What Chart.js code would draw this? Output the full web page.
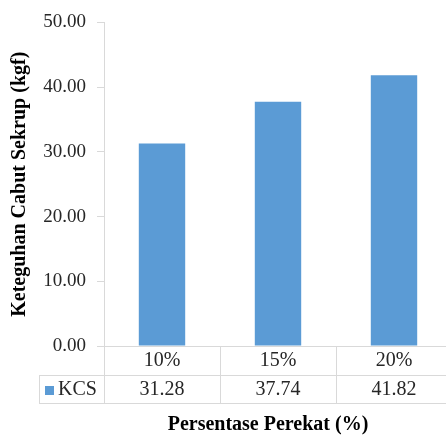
<!DOCTYPE html>
<html>
<head>
<meta charset="utf-8">
<script src="https://cdn.jsdelivr.net/npm/chart.js@4/dist/chart.umd.min.js"></script>
<style>
  html, body { margin: 0; padding: 0; background: #fff; overflow: hidden; }
  #wrap { position: relative; width: 460px; height: 436px; }
</style>
</head>
<body>
<div id="wrap"><canvas id="c" width="460" height="436"></canvas></div>
<script>
// Screw withdrawal strength by adhesive percentage
const categories = ['10%', '15%', '20%'];
const seriesName = 'KCS';
const kcsValues = [31.28, 37.74, 41.82];
const yMin = 0;
const yMax = 50;
const yStep = 10;
const yTitle = 'Keteguhan Cabut Sekrup (kgf)';
const xTitle = 'Persentase Perekat (%)';

const SERIF = "'Liberation Serif', 'Times New Roman', serif";
const BAR_COLOR = '#5B9BD5';
const LINE_COLOR = '#d9d9d9';
const TEXT_COLOR = '#262626';

// Data table under the plot: category row, series row with legend key, and axis title
const dataTable = {
  id: 'dataTable',
  afterDraw(chart) {
    const { ctx, chartArea: a, scales: { x } } = chart;
    const n = categories.length;
    const colW = (x.right - x.left) / n;
    const y0 = a.bottom;
    const y1 = y0 + 29;
    const y2 = y0 + 57;
    const tableLeft = 39;

    ctx.save();
    ctx.strokeStyle = LINE_COLOR;
    ctx.lineWidth = 1;
    ctx.beginPath();
    for (let i = 0; i <= n; i++) {
      const px = Math.round(x.left + i * colW) + 0.5;
      ctx.moveTo(px, y0);
      ctx.lineTo(px, y2);
    }
    ctx.moveTo(tableLeft + 0.5, y1);
    ctx.lineTo(tableLeft + 0.5, y2);
    ctx.moveTo(tableLeft, y1 + 0.5);
    ctx.lineTo(x.right, y1 + 0.5);
    ctx.moveTo(tableLeft, y2 + 0.5);
    ctx.lineTo(x.right, y2 + 0.5);
    ctx.stroke();

    const rowMid = (y1 + y2) / 2 + 1;
    ctx.fillStyle = BAR_COLOR;
    ctx.fillRect(45, Math.round(rowMid - 4.5), 9, 9);

    ctx.fillStyle = TEXT_COLOR;
    ctx.font = '20px ' + SERIF;
    ctx.textBaseline = 'middle';
    ctx.textAlign = 'left';
    ctx.fillText(seriesName, 58, rowMid);
    ctx.textAlign = 'center';
    kcsValues.forEach((v, i) => {
      ctx.fillText(v.toFixed(2), x.getPixelForValue(i), rowMid);
    });

    ctx.fillStyle = '#000';
    ctx.font = 'bold 20px ' + SERIF;
    ctx.fillText(xTitle, 268, 425);
    ctx.restore();
  }
};

new Chart(document.getElementById('c'), {
  type: 'bar',
  data: {
    labels: categories,
    datasets: [{
      label: seriesName,
      data: kcsValues,
      backgroundColor: BAR_COLOR,
      borderWidth: 0,
      barPercentage: 0.4,
      categoryPercentage: 1
    }]
  },
  options: {
    responsive: false,
    animation: false,
    devicePixelRatio: 1,
    layout: { padding: { top: 18, right: 8, bottom: 0, left: 0 } },
    plugins: {
      legend: { display: false },
      tooltip: { enabled: false },
      title: { display: false }
    },
    scales: {
      x: {
        afterFit(s) { s.height = 90; },
        grid: { display: false, drawTicks: false },
        border: { display: true, color: LINE_COLOR, width: 1 },
        ticks: {
          padding: 3,
          color: TEXT_COLOR,
          font: { family: SERIF, size: 20 }
        }
      },
      y: {
        min: yMin,
        max: yMax,
        afterFit(s) { s.width = 104; },
        grid: {
          drawOnChartArea: false,
          drawTicks: true,
          tickLength: 7,
          color: LINE_COLOR
        },
        border: { display: true, color: LINE_COLOR, width: 1 },
        ticks: {
          stepSize: yStep,
          padding: 11,
          color: TEXT_COLOR,
          font: { family: SERIF, size: 19 },
          callback: v => Number(v).toFixed(2)
        },
        title: {
          display: true,
          text: yTitle,
          color: '#000',
          padding: { top: 8, bottom: 0 },
          font: { family: SERIF, size: 20, weight: 'bold' }
        }
      }
    }
  },
  plugins: [dataTable]
});
</script>
</body>
</html>
